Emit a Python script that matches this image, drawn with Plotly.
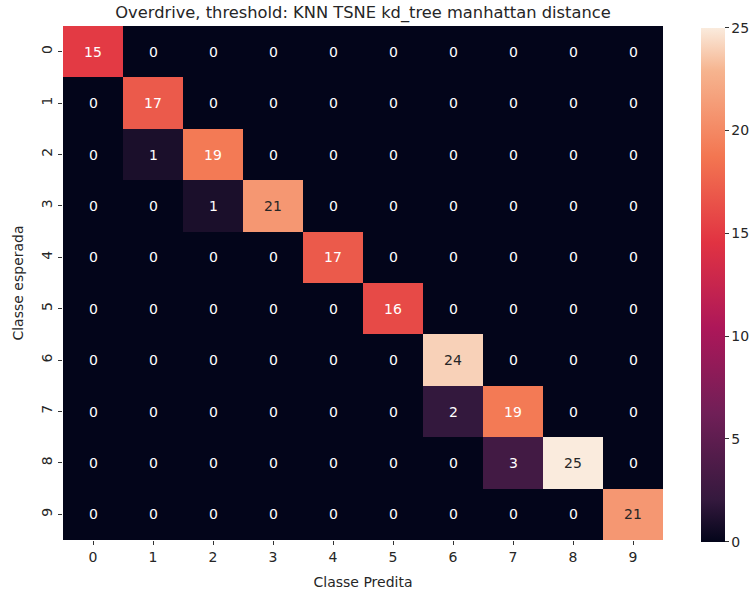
import plotly.graph_objects as go

# Confusion matrix: rows = expected class, columns = predicted class
classes = ["0", "1", "2", "3", "4", "5", "6", "7", "8", "9"]
matrix = [
    [15, 0, 0, 0, 0, 0, 0, 0, 0, 0],
    [0, 17, 0, 0, 0, 0, 0, 0, 0, 0],
    [0, 1, 19, 0, 0, 0, 0, 0, 0, 0],
    [0, 0, 1, 21, 0, 0, 0, 0, 0, 0],
    [0, 0, 0, 0, 17, 0, 0, 0, 0, 0],
    [0, 0, 0, 0, 0, 16, 0, 0, 0, 0],
    [0, 0, 0, 0, 0, 0, 24, 0, 0, 0],
    [0, 0, 0, 0, 0, 0, 2, 19, 0, 0],
    [0, 0, 0, 0, 0, 0, 0, 3, 25, 0],
    [0, 0, 0, 0, 0, 0, 0, 0, 0, 21],
]
title = "Overdrive, threshold: KNN TSNE kd_tree manhattan distance"

# seaborn "rocket" colormap approximation
rocket = [
    [0.0, "#03051A"],
    [0.0833, "#35193E"],
    [0.25, "#701F57"],
    [0.4167, "#AD1759"],
    [0.5833, "#E13342"],
    [0.75, "#F37651"],
    [0.9167, "#F6B48F"],
    [1.0, "#FAEBDD"],
]

zmin = min(min(r) for r in matrix)
zmax = max(max(r) for r in matrix)

W, H = 755, 594
L, R, T, B = 63, 92, 26, 54
FONT = "DejaVu Sans"
TXT = "#262626"

fig = go.Figure()
fig.add_trace(go.Heatmap(
    z=matrix, x=classes, y=classes,
    colorscale=rocket, zmin=zmin, zmax=zmax,
    colorbar=dict(
        thickness=24, len=H - T - B, lenmode="pixels",
        xref="container", yref="container",
        x=701 / W, xanchor="left", y=1 - (T + 6) / H, yanchor="top",
        xpad=0, ypad=0,
        outlinewidth=0, ticks="outside", ticklen=4, tickcolor="#333",
        tickvals=[0, 5, 10, 15, 20, 25],
        tickfont=dict(family=FONT, size=14, color=TXT),
    ),
    hoverinfo="skip",
))

# Cell annotations: dark text on light cells, white on dark ones
for i, row in enumerate(matrix):
    for j, v in enumerate(row):
        frac = (v - zmin) / (zmax - zmin)
        color = TXT if frac > 0.8 else "#FFFFFF"
        fig.add_annotation(
            x=classes[j], y=classes[i], text=str(v), showarrow=False,
            font=dict(family=FONT, size=14, color=color),
        )

fig.update_layout(
    width=W, height=H,
    margin=dict(l=L, r=R, t=T, b=B, autoexpand=False),
    paper_bgcolor="white", plot_bgcolor="white",
    title=dict(text=title, x=(L + (W - L - R) / 2) / W, xanchor="center",
               y=1 - 12 / H, yanchor="middle",
               font=dict(family=FONT, size=16.3, color=TXT)),
    xaxis=dict(
        title=dict(text="Classe Predita", standoff=13,
                   font=dict(family=FONT, size=14, color=TXT)),
        ticks="outside", ticklen=4, tickcolor="#333", showgrid=False,
        zeroline=False, showline=False,
        tickfont=dict(family=FONT, size=14, color=TXT),
    ),
    yaxis=dict(
        title=dict(text="Classe esperada", standoff=12,
                   font=dict(family=FONT, size=14, color=TXT)),
        autorange="reversed", tickangle=-90,
        ticks="outside", ticklen=4, tickcolor="#333", showgrid=False,
        zeroline=False, showline=False,
        tickfont=dict(family=FONT, size=14, color=TXT),
    ),
)

fig.write_html("out.html")
